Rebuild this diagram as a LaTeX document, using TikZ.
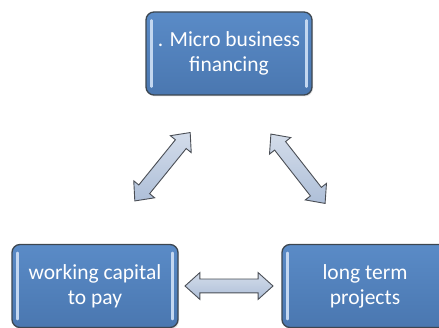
\documentclass[tikz,border=0pt]{standalone}
\usepackage{fontspec}
\setmainfont{Carlito}
\usetikzlibrary{shapes.arrows, shadows, calc, positioning}
\definecolor{BoxTop}{HTML}{5A8BC7}
\definecolor{BoxBottom}{HTML}{4A77B0}
\definecolor{BoxLine}{HTML}{3C4650}
\definecolor{BoxBar}{HTML}{C3D7F0}
\definecolor{ArrowTop}{HTML}{D3DCEA}
\definecolor{ArrowBottom}{HTML}{AEBFD8}
\definecolor{ArrowLine}{HTML}{4A4E55}

\begin{document}
\begin{tikzpicture}[x=1pt, y=1pt,
box/.style={
	rectangle,
	rounded corners=8pt,
	draw=BoxLine,
	line width=1.3pt,
	top color=BoxTop,
	bottom color=BoxBottom,
	minimum width=166pt,
	minimum height=83pt,
	inner sep=0pt,
	align=center,
	font=\fontsize{21.5}{25}\selectfont,
	text=white,
	drop shadow={opacity=0.2, shadow xshift=1pt, shadow yshift=-1.5pt}},
bar/.style={
	line width=2.5pt,
	line cap=round,
	color=BoxBar},
blockarrow/.style={
	double arrow,
	draw=ArrowLine,
	line width=0.9pt,
	top color=ArrowTop,
	bottom color=ArrowBottom,
	minimum height=88pt,
	minimum width=26pt,
	inner sep=6.5pt,
	double arrow head extend=6.5pt,
	double arrow tip angle=84}]

\useasboundingbox (0,0) rectangle (439,328);

%Boxes
\node[box] (MB) at (229,274.5) {. Micro business\\ financing};
\node[box] (WC) at (95,42) {working capital\\ to pay};
\node[box] (LT) at (365,42) {long term\\ projects};

\foreach \b in {MB, WC, LT} {
	\draw[bar] ($(\b.north west)+(6,-9)$) -- ($(\b.south west)+(6,9)$);
	\draw[bar] ($(\b.north east)+(-6,-9)$) -- ($(\b.south east)+(-6,9)$);
}

%Arrows
\node[blockarrow, rotate=51] (aMW) at ($(MB)!0.5!(WC)+(0.5,3)$) {};
\node[blockarrow, rotate=-52] (aML) at ($(MB)!0.5!(LT)+(1,1)$) {};
\node[blockarrow] (aWL) at ($(WC)!0.5!(LT)+(-1,0)$) {};

\end{tikzpicture}
\end{document}
